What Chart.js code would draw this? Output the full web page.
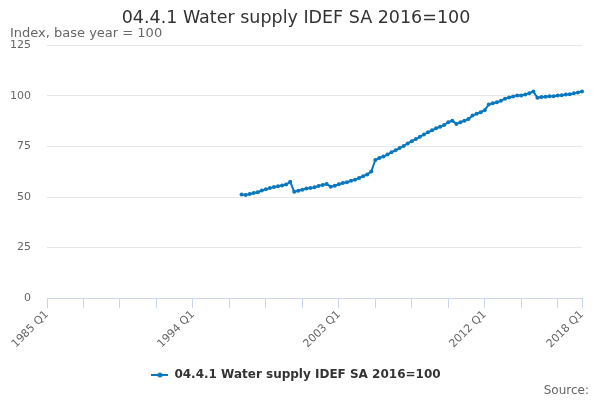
<!DOCTYPE html>
<html>
<head>
<meta charset="utf-8">
<script src="https://cdn.jsdelivr.net/npm/chart.js@4"></script>
<style>
  html, body { margin: 0; padding: 0; background: #fff; }
  #wrap { width: 600px; height: 400px; position: relative; }
</style>
</head>
<body>
<div id="wrap"><canvas id="myChart"></canvas></div>
<script>
    // quarters shown on the axis
    const firstYear = 1985;
    const lastYear = 2018;
    const shownLabels = ['1985 Q1', '1994 Q1', '2003 Q1', '2012 Q1', '2018 Q1'];

    // index values, 1997 Q1 .. 2018 Q1
    const seriesStart = '1997 Q1';
    const waterSupply = [
        51.2, 51.0, 51.5, 52.0,
        52.4, 53.2, 53.8, 54.4,
        54.9, 55.3, 55.7, 56.2,
        57.5, 52.6, 53.1, 53.6,
        54.2, 54.4, 54.8, 55.5,
        56.0, 56.4, 55.1, 55.6,
        56.3, 56.9, 57.3, 58.0,
        58.6, 59.4, 60.3, 61.2,
        62.6, 68.3, 69.3, 70.0,
        71.0, 72.2, 73.2, 74.2,
        75.3, 76.5, 77.6, 78.7,
        79.8, 81.0, 82.0, 83.0,
        84.0, 84.8, 85.6, 87.0,
        87.8, 86.2, 87.0, 87.8,
        88.6, 90.3, 91.2, 92.0,
        93.0, 95.8, 96.4, 96.9,
        97.6, 98.7, 99.3, 99.8,
        100.3, 100.2, 100.8, 101.4,
        102.2, 99.1, 99.5, 99.6,
        99.9, 99.9, 100.2, 100.4,
        100.7, 100.9, 101.3, 101.7,
        102.2
    ];

    const yTicks = [0, 25, 50, 75, 100, 125];

    const labels = [];
    for (let y = firstYear; y <= lastYear; y++) {
        for (let q = 1; q <= 4; q++) {
            if (y === lastYear && q > 1) break;
            labels.push(y + ' Q' + q);
        }
    }
    const startIdx = labels.indexOf(seriesStart);
    const values = labels.map((l, i) => (i >= startIdx ? waterSupply[i - startIdx] : null));

    const blue = '#0a78be';

    // legend symbol: short line with a dot
    const sym = document.createElement('canvas');
    sym.width = 17; sym.height = 8;
    const sc = sym.getContext('2d');
    sc.strokeStyle = blue; sc.lineWidth = 2;
    sc.beginPath(); sc.moveTo(0, 4); sc.lineTo(17, 4); sc.stroke();
    sc.fillStyle = blue;
    sc.beginPath(); sc.arc(8.5, 4, 2.5, 0, Math.PI * 2); sc.fill();

    const sourcePlugin = {
        id: 'sourceText',
        afterDraw(chart) {
            const ctx = chart.ctx;
            ctx.save();
            ctx.font = '12px "DejaVu Sans"';
            ctx.fillStyle = '#666';
            ctx.textAlign = 'right';
            ctx.textBaseline = 'middle';
            ctx.fillText('Source:', 589, 391);
            ctx.restore();
        }
    };

    const data = {
        labels: labels,
        datasets: [{
            label: '04.4.1 Water supply IDEF SA 2016=100',
            data: values,
            borderColor: blue,
            backgroundColor: blue,
            borderWidth: 2,
            pointRadius: 2,
            pointHoverRadius: 3,
            pointBorderWidth: 0,
            pointStyle: 'circle',
            tension: 0,
            spanGaps: false
        }]
    };

    const config = {
        type: 'line',
        data: data,
        plugins: [sourcePlugin],
        options: {
            responsive: false,
            animation: false,
            devicePixelRatio: 1,
            layout: { padding: { left: 10, right: 18, top: 0, bottom: 9 } },
            plugins: {
                title: {
                    display: true,
                    text: '04.4.1 Water supply IDEF SA 2016=100',
                    color: '#333',
                    font: { family: '"DejaVu Sans"', size: 17.5, weight: 'normal', lineHeight: 1.0 },
                    padding: { top: 10, bottom: 0 }
                },
                subtitle: {
                    display: true,
                    text: 'Index, base year = 100',
                    align: 'start',
                    color: '#666',
                    font: { family: '"DejaVu Sans"', size: 13, weight: 'normal', lineHeight: 1.0 },
                    padding: { top: 0, bottom: 5 }
                },
                legend: {
                    position: 'bottom',
                    labels: {
                        color: '#333',
                        font: { family: '"DejaVu Sans"', size: 12, weight: 'bold' },
                        usePointStyle: true,
                        pointStyle: sym,
                        boxHeight: 8,
                        pointStyleWidth: 17,
                        padding: 10
                    }
                },
                tooltip: { enabled: false }
            },
            scales: {
                x: {
                    type: 'category',
                    offset: false,
                    border: { color: '#ccd6eb', width: 1 },
                    grid: {
                        drawOnChartArea: false,
                        drawTicks: true,
                        tickLength: 10,
                        tickColor: (c) => (c.index % 9 === 0 || c.index === labels.length - 1) ? '#ccd6eb' : 'rgba(0,0,0,0)'
                    },
                    ticks: {
                        autoSkip: false,
                        maxRotation: 45,
                        minRotation: 45,
                        padding: 0,
                        color: '#666',
                        font: { family: '"DejaVu Sans"', size: 11 },
                        callback: function (v, i) {
                            const l = labels[i];
                            return shownLabels.includes(l) ? l : '';
                        }
                    },
                    afterFit: function (scale) { scale.height = 61; }
                },
                y: {
                    min: 0,
                    max: 125,
                    border: { display: false },
                    grid: { color: '#e6e6e6', drawTicks: false },
                    afterBuildTicks: function (scale) {
                        scale.ticks = yTicks.map(v => ({ value: v }));
                    },
                    ticks: {
                        padding: 16,
                        color: '#666',
                        font: { family: '"DejaVu Sans"', size: 11 }
                    },
                    afterFit: function (scale) { scale.width = 37; }
                }
            }
        }
    };

    const cv = document.getElementById('myChart');
    cv.width = 600;
    cv.height = 400;
    const myChart = new Chart(cv, config);
</script>
</body>
</html>
